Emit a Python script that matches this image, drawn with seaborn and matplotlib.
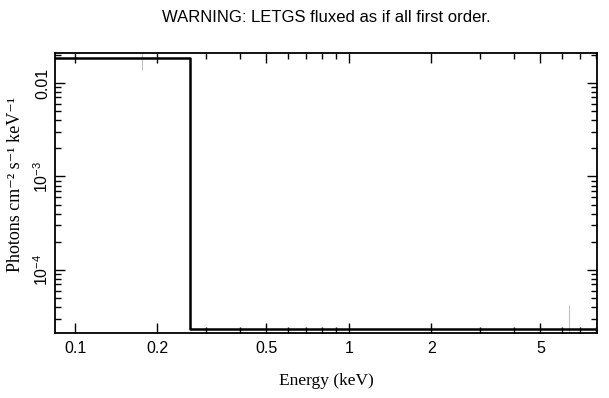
import numpy as np
import pandas as pd
import matplotlib
matplotlib.use("Agg")
import matplotlib.pyplot as plt
import matplotlib.ticker as mticker
import seaborn as sns

# spectrum (step histogram, keV vs flux)
energy = [0.0845, 0.263, 8.04]
flux = [0.0185, 2.34e-5, 2.34e-5]

# faint error bars on a couple of bins
err_x = [0.176, 6.35]
err_lo = [0.0138, 1.5e-5]
err_hi = [0.030, 4.2e-5]

x_major = [0.1, 0.2, 0.5, 1, 2, 5]
x_labels = ["0.1", "0.2", "0.5", "1", "2", "5"]
y_major = [1e-4, 1e-3, 1e-2]
y_labels = ["$10^{-4}$", "$10^{-3}$", "0.01"]

sns.set_style("ticks")
plt.rcParams["font.family"] = ["Liberation Sans", "DejaVu Sans"]
plt.rcParams["mathtext.fontset"] = "custom"
plt.rcParams["mathtext.rm"] = "Liberation Sans"
plt.rcParams["mathtext.it"] = "Liberation Sans"
plt.rcParams["text.color"] = "black"
plt.rcParams["axes.labelcolor"] = "black"

fig = plt.figure(figsize=(6.09, 3.98), dpi=100)
ax = fig.add_axes([0.0903, 0.1633, 0.8897, 0.7035])

for x, lo, hi in zip(err_x, err_lo, err_hi):
    ax.vlines(x, lo, hi, color="#c0c0c0", lw=0.8, zorder=1)

df = pd.DataFrame({"energy": energy, "flux": flux})
sns.lineplot(data=df, x="energy", y="flux", ax=ax, color="black", lw=1.8,
             drawstyle="steps-post", estimator=None, zorder=3)

ax.set_xscale("log")
ax.set_yscale("log")
ax.set_xlim(0.0845, 8.04)
ax.set_ylim(2.12e-5, 0.0209)

ax.xaxis.set_major_locator(mticker.FixedLocator(x_major))
ax.xaxis.set_major_formatter(mticker.FixedFormatter(x_labels))
minors = [v * d for d in [0.1, 1] for v in range(1, 10)]
minors = [m for m in minors if m not in x_major]
ax.xaxis.set_minor_locator(mticker.FixedLocator(minors))
ax.xaxis.set_minor_formatter(mticker.NullFormatter())

ax.yaxis.set_major_locator(mticker.FixedLocator(y_major))
ax.yaxis.set_major_formatter(mticker.FixedFormatter(y_labels))
ax.yaxis.set_minor_locator(mticker.LogLocator(base=10, subs=np.arange(2, 10)))
ax.yaxis.set_minor_formatter(mticker.NullFormatter())

ax.tick_params(which="both", direction="in", top=True, right=True,
               width=1.0, colors="black", labelsize=11.5)
ax.tick_params(which="major", length=7)
ax.tick_params(which="minor", length=4)
ax.tick_params(axis="x", which="major", pad=6)
ax.tick_params(axis="y", which="major", pad=3)
for lab in ax.get_yticklabels():
    lab.set_rotation(90)
    lab.set_va("center")
for sp in ax.spines.values():
    sp.set_linewidth(1.3)
    sp.set_color("black")

ax.set_xlabel("Energy (keV)", family=["Liberation Serif", "DejaVu Serif"],
              fontsize=12.5, labelpad=12)
ax.set_ylabel("Photons cm\u207b\u00b2 s\u207b\u00b9 keV\u207b\u00b9",
              family=["Liberation Serif", "DejaVu Serif"], fontsize=13,
              labelpad=6)
ax.yaxis.label.set_y(0.53)
fig.text(0.535, 0.955, "WARNING: LETGS fluxed as if all first order.",
         ha="center", va="center", fontsize=12, color="black")

fig.savefig("out.png", dpi=100)
